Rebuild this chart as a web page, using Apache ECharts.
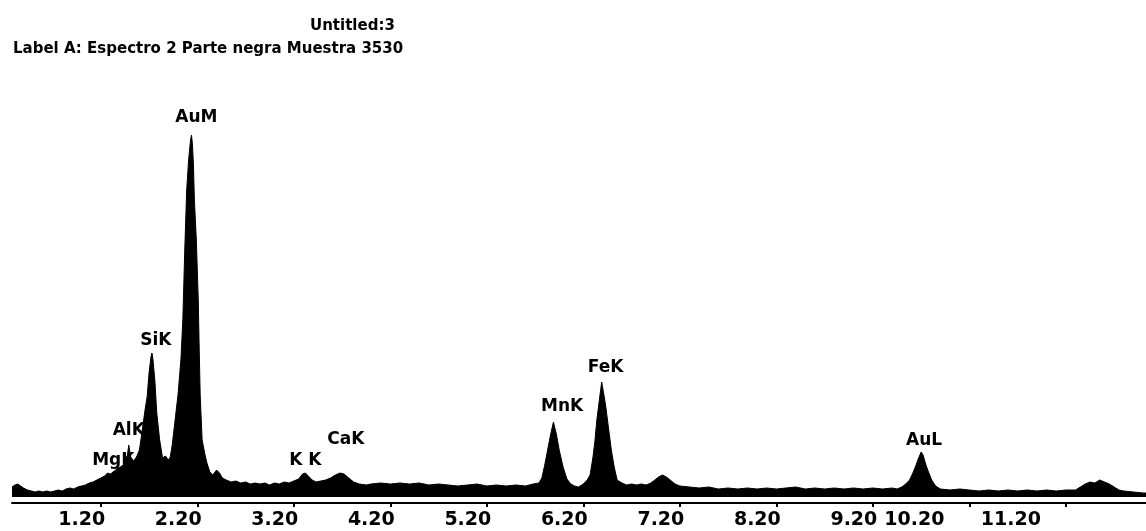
<!DOCTYPE html>
<html>
<head>
<meta charset="utf-8">
<script src="https://cdn.jsdelivr.net/npm/echarts@6/dist/echarts.min.js"></script>
<style>
  html, body { margin: 0; padding: 0; background: #fff; }
  #main { width: 1146px; height: 531px; }
</style>
</head>
<body>
<div id="main"></div>
<script>
var energies = [
  0.28, 0.31, 0.34, 0.37, 0.40, 0.44, 0.48, 0.52, 0.56, 0.60, 0.64, 0.68, 0.72, 0.76, 0.80, 0.84, 0.88, 0.92, 0.96, 1.00,
  1.04, 1.08, 1.12, 1.16, 1.20, 1.24, 1.27, 1.30, 1.34, 1.38, 1.42, 1.45, 1.47, 1.49, 1.51, 1.54, 1.57, 1.60, 1.62, 1.64,
  1.66, 1.68, 1.70, 1.72, 1.73, 1.74, 1.76, 1.78, 1.81, 1.84, 1.87, 1.90, 1.92, 1.94, 1.97, 2.00, 2.03, 2.05, 2.07, 2.09,
  2.11, 2.13, 2.14, 2.15, 2.16, 2.17, 2.19, 2.21, 2.22, 2.23, 2.25, 2.28, 2.30, 2.33, 2.36, 2.40, 2.43, 2.46, 2.50, 2.55,
  2.60, 2.65, 2.70, 2.75, 2.80, 2.85, 2.90, 2.95, 3.00, 3.05, 3.10, 3.15, 3.20, 3.25, 3.29, 3.32, 3.35, 3.39, 3.43, 3.48,
  3.53, 3.58, 3.63, 3.68, 3.72, 3.77, 3.82, 3.88, 3.95, 4.00, 4.10, 4.20, 4.30, 4.40, 4.50, 4.60, 4.70, 4.80, 4.90, 5.00,
  5.10, 5.20, 5.30, 5.40, 5.50, 5.60, 5.68, 5.74, 5.77, 5.80, 5.83, 5.86, 5.89, 5.92, 5.95, 5.99, 6.03, 6.07, 6.11, 6.15,
  6.20, 6.24, 6.27, 6.30, 6.32, 6.34, 6.37, 6.39, 6.41, 6.43, 6.45, 6.47, 6.49, 6.52, 6.55, 6.60, 6.65, 6.70, 6.75, 6.80,
  6.85, 6.90, 6.94, 6.98, 7.02, 7.06, 7.10, 7.15, 7.20, 7.30, 7.40, 7.50, 7.60, 7.70, 7.80, 7.90, 8.00, 8.10, 8.20, 8.30,
  8.40, 8.50, 8.60, 8.70, 8.80, 8.90, 9.00, 9.10, 9.20, 9.30, 9.40, 9.45, 9.50, 9.54, 9.58, 9.61, 9.64, 9.67, 9.70, 9.72,
  9.75, 9.78, 9.81, 9.85, 9.90, 10.00, 10.10, 10.20, 10.30, 10.40, 10.50, 10.60, 10.70, 10.80, 10.90, 11.00, 11.10, 11.20, 11.30, 11.35,
  11.40, 11.45, 11.50, 11.55, 11.60, 11.65, 11.70, 11.75, 11.80, 11.90, 12.00, 12.03
];
var counts = [
  10, 12, 13, 11, 9, 7, 6, 5, 6, 5, 6, 5, 6, 7, 6, 8, 9, 8, 10, 11,
  12, 14, 15, 17, 19, 21, 24, 23, 26, 29, 31, 34, 38, 52, 40, 36, 40, 47, 60, 74,
  88, 100, 124, 140, 144, 138, 117, 84, 57, 39, 41, 37, 40, 52, 77, 102, 137, 177, 247, 307,
  337, 357, 362, 352, 332, 297, 257, 197, 147, 102, 57, 42, 34, 25, 22, 27, 24, 19, 17, 15,
  16, 14, 15, 13, 14, 13, 14, 12, 14, 13, 15, 14, 16, 18, 23, 24, 21, 17, 15, 16,
  17, 19, 22, 24, 23, 19, 15, 13, 12, 13, 14, 13, 14, 13, 14, 12, 13, 12, 11, 12,
  13, 11, 12, 11, 12, 11, 13, 14, 19, 32, 47, 62, 75, 63, 47, 30, 18, 13, 11, 10,
  13, 17, 22, 40, 56, 77, 100, 115, 104, 92, 77, 62, 47, 30, 17, 14, 12, 13, 12, 13,
  12, 14, 17, 20, 22, 20, 17, 13, 11, 10, 9, 10, 8, 9, 8, 9, 8, 9, 8, 9,
  10, 8, 9, 8, 9, 8, 9, 8, 9, 8, 9, 8, 10, 13, 17, 23, 30, 38, 45, 42,
  32, 24, 17, 11, 8, 7, 8, 7, 6, 7, 6, 7, 6, 7, 6, 7, 6, 7, 7, 10,
  13, 15, 14, 17, 15, 13, 10, 7, 6, 5, 4, 4
];

// etiquetas de los picos
var peakNames = ['MgK', 'AlK', 'SiK', 'AuM', 'K K', 'CaK', 'MnK', 'FeK', 'AuL'];
var peakLabelEnergy = [1.33, 1.49, 1.77, 2.19, 3.32, 3.74, 5.98, 6.43, 9.73];
var peakLabelCounts = [36, 66, 156, 379, 36, 57, 90, 129, 56];

var tickValues = [1.2, 2.2, 3.2, 4.2, 5.2, 6.2, 7.2, 8.2, 9.2, 10.2, 11.2];

var spectrum = energies.map(function (e, i) { return [e, counts[i]]; });
var peaks = peakNames.map(function (n, i) {
  return { name: n, value: [peakLabelEnergy[i], peakLabelCounts[i]] };
});

var myChart = echarts.init(document.getElementById('main'));
var option = {
  animation: false,
  backgroundColor: '#fff',
  title: [{
    text: 'Untitled:3',
    left: 305,
    top: 14,
    textStyle: { fontFamily: 'DejaVu Sans', fontWeight: 'bold', fontSize: 15, color: '#000' }
  }, {
    text: 'Label A: Espectro 2 Parte negra Muestra 3530',
    left: 8,
    top: 37,
    textStyle: { fontFamily: 'DejaVu Sans', fontWeight: 'bold', fontSize: 15, color: '#000' }
  }],
  grid: { left: 12, right: 0, top: 100, bottom: 28 },
  xAxis: {
    type: 'value',
    min: 0.28,
    max: 12.03,
    splitLine: { show: false },
    axisLine: { onZero: false, lineStyle: { color: '#000', width: 2 } },
    axisTick: {
      customValues: tickValues,
      length: 4,
      lineStyle: { color: '#000', width: 2 }
    },
    axisLabel: {
      customValues: tickValues,
      margin: 8,
      formatter: function (v) {
        return v >= 10 ? '{b|' + v.toFixed(2) + '}' : '{a|' + v.toFixed(2) + '}';
      },
      rich: {
        a: { fontFamily: 'DejaVu Sans', fontWeight: 'bold', fontSize: 19, color: '#000', padding: [0, 38, 0, 0] },
        b: { fontFamily: 'DejaVu Sans', fontWeight: 'bold', fontSize: 19, color: '#000', padding: [0, 110, 0, 0] }
      }
    }
  },
  yAxis: {
    type: 'value',
    min: -6,
    max: 397,
    show: false
  },
  series: [{
    type: 'line',
    data: spectrum,
    symbol: 'none',
    lineStyle: { color: '#000', width: 1 },
    areaStyle: { color: '#000', opacity: 1 },
    silent: true
  }, {
    type: 'scatter',
    data: peaks,
    symbolSize: 1,
    itemStyle: { color: 'rgba(0,0,0,0)', opacity: 1 },
    label: {
      show: true,
      position: 'inside',
      formatter: '{b}',
      fontFamily: 'DejaVu Sans',
      fontWeight: 'bold',
      fontSize: 17,
      color: '#000'
    },
    silent: true
  }]
};
myChart.setOption(option);
</script>
</body>
</html>
